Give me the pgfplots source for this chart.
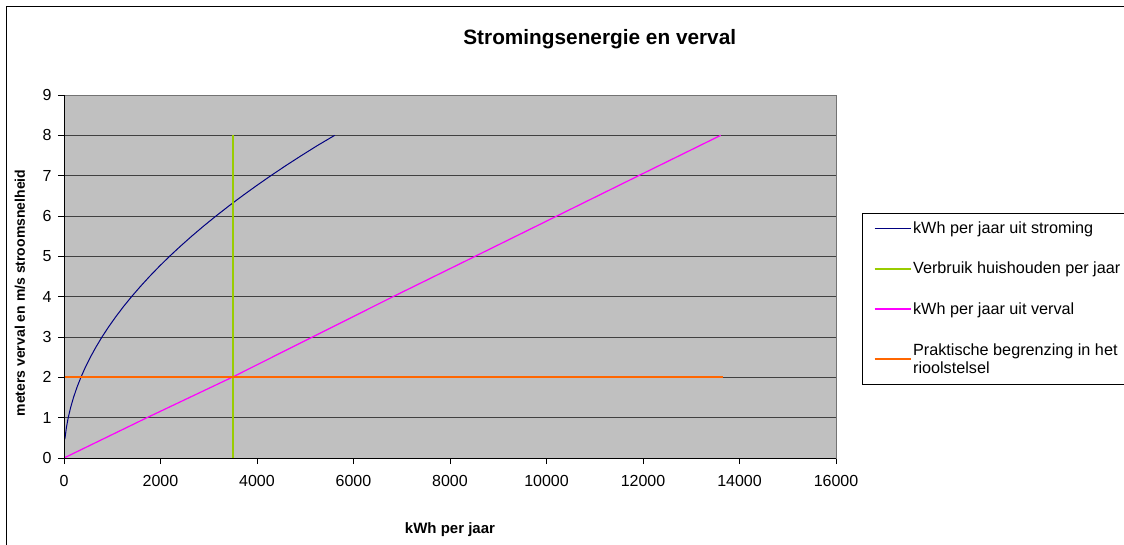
\documentclass[border=0pt]{standalone}
\usepackage{pgfplots}
\pgfplotsset{compat=1.18}
\usepackage{fontspec}
\setmainfont{Liberation Sans}
\definecolor{bggray}{HTML}{C0C0C0}
\definecolor{navyc}{HTML}{000080}
\definecolor{limec}{HTML}{99CC00}
\definecolor{pinkline}{RGB}{255,0,255}
\definecolor{orc}{HTML}{FF6600}
\begin{document}
\begin{tikzpicture}[x=1pt,y=1pt]
\clip (0,0) rectangle (1124,544);
\path[use as bounding box] (0,0) rectangle (1124,544);
\fill[white] (0,0) rectangle (1124,544);
\draw[black, line width=1.5pt] (6.5,-10) -- (6.5,537.5) -- (1140,537.5);
\begin{axis}[
  at={(64pt,86pt)}, anchor=south west,
  width=772pt, height=363pt, scale only axis,
  xmin=0, xmax=16000, ymin=0, ymax=9,
  axis background/.style={fill=bggray},
  axis line style={draw=gray!90!black, line width=1pt},
  xtick={0,2000,...,16000},
  ytick={0,1,...,9},
  scaled x ticks=false,
  xticklabel style={/pgf/number format/1000 sep={}, yshift=-8pt},
  yticklabel style={xshift=-3pt},
  /pgf/number format/assume math mode=true,
  tick label style={font=\fontsize{16}{18}\selectfont, black},
  tick align=outside, tick pos=left,
  major tick length=6pt,
  tick style={black, line width=0.8pt},
  ymajorgrids, grid style={black!75, line width=1pt},
  title={\textbf{Stromingsenergie en verval}},
  title style={font=\fontsize{20.8}{23}\selectfont, at={(axis description cs:0.694,1.137)}, anchor=center},
  xlabel={\textbf{kWh per jaar}},
  xlabel style={font=\fontsize{15}{17}\selectfont, at={(axis description cs:0.5,-0.198)}, anchor=center},
  ylabel={\textbf{meters verval en m/s stroomsnelheid}},
  ylabel style={font=\fontsize{14}{16}\selectfont, at={(axis description cs:-0.057,0.4545)}, anchor=center, rotate=0},
  legend style={at={(axis description cs:1.0337,0.675)}, anchor=north west,
    draw=black, line width=0.8pt, fill=white, font=\fontsize{16.2}{19}\selectfont,
    row sep=24pt, inner xsep=11pt, inner ysep=7pt,
    nodes={inner sep=1.5pt}},
  legend cell align=left,
  legend image code/.code={\draw[#1] (0pt,0pt) -- (36pt,0pt);},
]
\addplot[color=navyc, line width=1pt] coordinates {
(0,0) (0,0.35) (5.5,0.25) (8,0.45) (22,0.5) (49,0.75) (87.5,1) (137,1.25) (197,1.5) (268,1.75) (350,2) (443,2.25) (547,2.5) (662,2.75) (787,3) (924,3.25) (1072,3.5) (1230,3.75) (1400,4) (1581,4.25) (1772,4.5) (1974,4.75) (2187,5) (2412,5.25) (2647,5.5) (2893,5.75) (3150,6) (3418,6.25) (3697,6.5) (3987,6.75) (4287,7) (4598,7.25) (4922,7.5) (5256,7.75) (5610,8)
};
\addlegendentry{kWh per jaar uit stroming}
\addplot[color=limec, line width=2.2pt] coordinates {(3500,0) (3500,8)};
\addlegendentry{Verbruik huishouden per jaar}
\addplot[color=pinkline, line width=1.2pt] coordinates {(0,0) (1720,1) (3482,2) (5150,3) (6819,4) (8520,5) (10215,6) (11910,7) (13610,8)};
\addlegendentry{kWh per jaar uit verval}
\addplot[color=orc, line width=2.2pt] coordinates {(0,2) (13650,2)};
\addlegendentry[text depth=20pt]{\begin{tabular}[t]{@{}l@{}}Praktische begrenzing in het\\[-1pt]rioolstelsel\end{tabular}}
\draw[black, line width=1pt] (rel axis cs:0,1) -- (rel axis cs:0,0) -- (rel axis cs:1,0);
\end{axis}
\end{tikzpicture}
\end{document}
